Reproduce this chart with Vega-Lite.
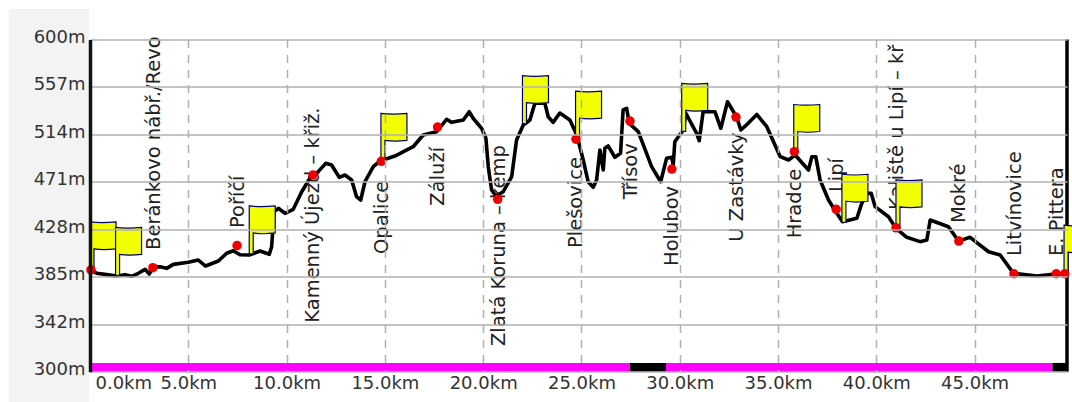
{"$schema":"https://vega.github.io/schema/vega-lite/v6.json","width":977,"height":332.3,"autosize":{"type":"none"},"padding":{"left":90,"top":39.5,"right":5,"bottom":30},"background":"white","config":{"view":{"stroke":null},"font":"DejaVu Sans"},"datasets":{"profile":[{"km":0,"elev":392.5},{"km":0.34,"elev":388.9},{"km":0.85,"elev":387.7},{"km":1.36,"elev":386.5},{"km":1.78,"elev":387.7},{"km":2.12,"elev":386.2},{"km":2.46,"elev":388.9},{"km":2.8,"elev":392.5},{"km":3.02,"elev":388.3},{"km":3.19,"elev":394.3},{"km":3.56,"elev":394.9},{"km":3.9,"elev":393.4},{"km":4.24,"elev":397},{"km":5,"elev":398.9},{"km":5.51,"elev":400.9},{"km":5.88,"elev":395.5},{"km":6.53,"elev":400},{"km":6.95,"elev":407},{"km":7.29,"elev":409.3},{"km":7.63,"elev":405.7},{"km":8.1,"elev":405.4},{"km":8.65,"elev":409.1},{"km":9.12,"elev":406.1},{"km":9.24,"elev":412.9},{"km":9.36,"elev":444.5},{"km":9.58,"elev":447.6},{"km":9.92,"elev":443.1},{"km":10.34,"elev":446.7},{"km":10.77,"elev":462.6},{"km":11.19,"elev":474.7},{"km":11.61,"elev":480.7},{"km":11.99,"elev":488.2},{"km":12.29,"elev":486.7},{"km":12.68,"elev":475.6},{"km":12.97,"elev":477.7},{"km":13.31,"elev":473.2},{"km":13.56,"elev":458.1},{"km":13.77,"elev":455.1},{"km":13.99,"elev":471.6},{"km":14.41,"elev":485.2},{"km":14.75,"elev":490.3},{"km":15.51,"elev":494.8},{"km":16.44,"elev":503.2},{"km":16.95,"elev":513.8},{"km":17.63,"elev":516.8},{"km":17.71,"elev":518.3},{"km":18.14,"elev":528},{"km":18.4,"elev":525.2},{"km":18.99,"elev":527.3},{"km":19.29,"elev":534.8},{"km":19.49,"elev":528.9},{"km":19.92,"elev":519.8},{"km":20.14,"elev":510.8},{"km":20.26,"elev":485.2},{"km":20.43,"elev":464.1},{"km":20.65,"elev":458.7},{"km":21.02,"elev":462.6},{"km":21.45,"elev":476.1},{"km":21.7,"elev":509.3},{"km":22.04,"elev":522.8},{"km":22.38,"elev":527.3},{"km":22.63,"elev":542.4},{"km":23.14,"elev":542.4},{"km":23.31,"elev":530.3},{"km":23.56,"elev":525.2},{"km":23.9,"elev":533.6},{"km":24.41,"elev":527.3},{"km":24.72,"elev":515.3},{"km":24.83,"elev":509.3},{"km":25.09,"elev":491.2},{"km":25.34,"elev":471.6},{"km":25.6,"elev":466.6},{"km":25.77,"elev":473.2},{"km":25.94,"elev":500.2},{"km":26.11,"elev":482.2},{"km":26.19,"elev":501.8},{"km":26.36,"elev":503.9},{"km":26.7,"elev":493.7},{"km":26.99,"elev":497.3},{"km":27.12,"elev":536.4},{"km":27.3,"elev":537.9},{"km":27.43,"elev":524.3},{"km":27.89,"elev":516.8},{"km":28.57,"elev":485.2},{"km":29.03,"elev":471.6},{"km":29.33,"elev":492.7},{"km":29.59,"elev":493.7},{"km":29.67,"elev":486.7},{"km":29.75,"elev":507.7},{"km":30.18,"elev":518.3},{"km":30.31,"elev":533.4},{"km":30.86,"elev":515.3},{"km":30.99,"elev":508.6},{"km":31.19,"elev":534.8},{"km":31.79,"elev":534.8},{"km":32.09,"elev":519.8},{"km":32.43,"elev":543.8},{"km":32.89,"elev":530.3},{"km":33.11,"elev":518.3},{"km":33.48,"elev":524.3},{"km":33.92,"elev":532.3},{"km":34.43,"elev":521.3},{"km":34.77,"elev":507.7},{"km":35.11,"elev":494.2},{"km":35.54,"elev":491.2},{"km":35.87,"elev":495.7},{"km":36.55,"elev":482.2},{"km":36.72,"elev":494.2},{"km":36.92,"elev":494.2},{"km":37.14,"elev":473.2},{"km":37.57,"elev":455.1},{"km":37.94,"elev":444.5},{"km":38.28,"elev":435.5},{"km":39.01,"elev":438.6},{"km":39.26,"elev":452.1},{"km":39.52,"elev":461.1},{"km":39.74,"elev":461.1},{"km":39.94,"elev":449.1},{"km":40.62,"elev":440},{"km":41,"elev":429.5},{"km":41.55,"elev":421.4},{"km":42.23,"elev":417.5},{"km":42.57,"elev":419},{"km":42.74,"elev":437},{"km":43.67,"elev":431},{"km":44.18,"elev":418},{"km":44.77,"elev":421.4},{"km":45.71,"elev":408.4},{"km":46.3,"elev":405.4},{"km":46.98,"elev":388.9},{"km":48.17,"elev":386.5},{"km":49.1,"elev":388.3},{"km":49.6,"elev":388.3}],"stops":[{"km":0.05,"elev":392,"name":""},{"km":3.2,"elev":394,"name":"Beránkovo nábř./Revo","lk":3.56,"le":410},{"km":7.48,"elev":414,"name":"Poříčí","lk":7.85,"le":429.8},{"km":11.34,"elev":477.6,"name":"Kamenný Újezd – křiž.","lk":11.67,"le":344.3},{"km":14.82,"elev":490,"name":"Opalice","lk":15.14,"le":406.3},{"km":17.68,"elev":521,"name":"Záluží","lk":18.02,"le":450},{"km":20.74,"elev":455.7,"name":"Zlatá Koruna – kemp","lk":21.11,"le":323.3},{"km":24.72,"elev":510,"name":"Plešovice","lk":25.04,"le":411.8},{"km":27.47,"elev":526.4,"name":"Třísov","lk":27.81,"le":455.7},{"km":29.6,"elev":483,"name":"Holubov","lk":29.92,"le":395.5},{"km":32.86,"elev":530,"name":"U Zastávky","lk":33.2,"le":417.5},{"km":35.83,"elev":498.7,"name":"Hradce","lk":36.18,"le":420.5},{"km":37.96,"elev":446.7,"name":"Lipí","lk":38.28,"le":462.3},{"km":41,"elev":430,"name":"Kaliště u Lipí – kř","lk":41.38,"le":446.1},{"km":44.2,"elev":418,"name":"Mokré","lk":44.52,"le":434.3},{"km":47,"elev":388.5,"name":"Litvínovice","lk":47.37,"le":404.5},{"km":49.15,"elev":388.5,"name":"E. Pittera","lk":49.49,"le":404.5},{"km":49.58,"elev":388.5,"name":""}]},"layer":[{"data":{"values":[{"a":-4.13,"b":-0.05,"lo":272.8,"hi":627.6}]},"mark":{"type":"rect","color":"#f3f3f3","clip":false},"encoding":{"x":{"field":"a","type":"quantitative","scale":{"domain":[0,49.7],"nice":false,"zero":false},"axis":{"title":null,"values":[0,5,10,15,20,25,30,35,40,45],"labelExpr":"format(datum.value,'.1f')+'km'","grid":true,"gridColor":"#b0b0b0","gridWidth":1.5,"gridDash":[8,7],"domain":false,"ticks":false,"labelFontSize":18,"labelColor":"#333333","labelFont":"DejaVu Sans","labelPadding":3,"labelFlush":true,"labelFlushOffset":-5,"labelOverlap":false,"zindex":1}},"x2":{"field":"b"},"y":{"field":"lo","type":"quantitative","scale":{"domain":[300,600],"nice":false,"zero":false},"axis":{"title":null,"values":[300,342.86,385.71,428.57,471.43,514.29,557.14,600],"labelExpr":"floor(datum.value)+'m'","grid":true,"gridColor":"#b0b0b0","gridWidth":1.5,"domain":true,"domainColor":"#111111","domainWidth":3.5,"ticks":false,"labelFontSize":18,"labelColor":"#333333","labelFont":"DejaVu Sans","labelPadding":5,"labelOffset":-2,"labelOverlap":false,"zindex":1}},"y2":{"field":"hi"}}},{"data":{"values":[{"a":0,"b":27.46,"lo":300,"hi":308,"surface":"paved"},{"a":27.46,"b":29.3,"lo":300,"hi":308,"surface":"other"},{"a":29.3,"b":48.96,"lo":300,"hi":308,"surface":"paved"},{"a":48.96,"b":49.7,"lo":300,"hi":308,"surface":"other"}]},"mark":{"type":"rect"},"encoding":{"x":{"field":"a","type":"quantitative"},"x2":{"field":"b"},"y":{"field":"lo","type":"quantitative"},"y2":{"field":"hi"},"color":{"field":"surface","type":"nominal","scale":{"domain":["paved","other"],"range":["#ff00ff","#000000"]},"legend":null}}},{"data":{"values":[{"km":49.7}]},"mark":{"type":"rule","color":"#000000","strokeWidth":3.5},"encoding":{"x":{"field":"km","type":"quantitative"}}},{"data":{"name":"stops"},"transform":[{"filter":"datum.name!=''"}],"mark":{"type":"text","angle":270,"align":"left","baseline":"alphabetic","fontSize":19.5,"font":"DejaVu Sans","color":"#222222"},"encoding":{"x":{"field":"lk","type":"quantitative"},"y":{"field":"le","type":"quantitative"},"text":{"field":"name","type":"nominal"}}},{"data":{"name":"profile"},"mark":{"type":"line","color":"#000000","strokeWidth":3.6,"strokeJoin":"round","strokeCap":"round"},"encoding":{"x":{"field":"km","type":"quantitative"},"y":{"field":"elev","type":"quantitative"},"order":{"field":"km","type":"quantitative"}}},{"data":{"values":[{"km":0,"elev":392},{"km":1.3,"elev":387},{"km":8.1,"elev":406.4},{"km":14.8,"elev":490},{"km":22,"elev":524},{"km":24.7,"elev":510},{"km":30.1,"elev":517},{"km":35.8,"elev":498},{"km":38.25,"elev":435},{"km":41,"elev":430},{"km":49.55,"elev":389}]},"mark":{"type":"point","filled":true,"fill":"#f2ff00","fillOpacity":1,"stroke":"#000070","strokeWidth":1.2,"strokeOpacity":1,"size":4,"shape":"M0,0 L0,-48 C8,-47 16,-47 26,-48 L26,-21 C18,-20 10,-20 4,-21 L4,0 Z"},"encoding":{"x":{"field":"km","type":"quantitative"},"y":{"field":"elev","type":"quantitative"}}},{"data":{"name":"stops"},"mark":{"type":"point","filled":true,"fill":"#ee0000","opacity":1,"size":90,"shape":"circle"},"encoding":{"x":{"field":"km","type":"quantitative"},"y":{"field":"elev","type":"quantitative"}}}]}
